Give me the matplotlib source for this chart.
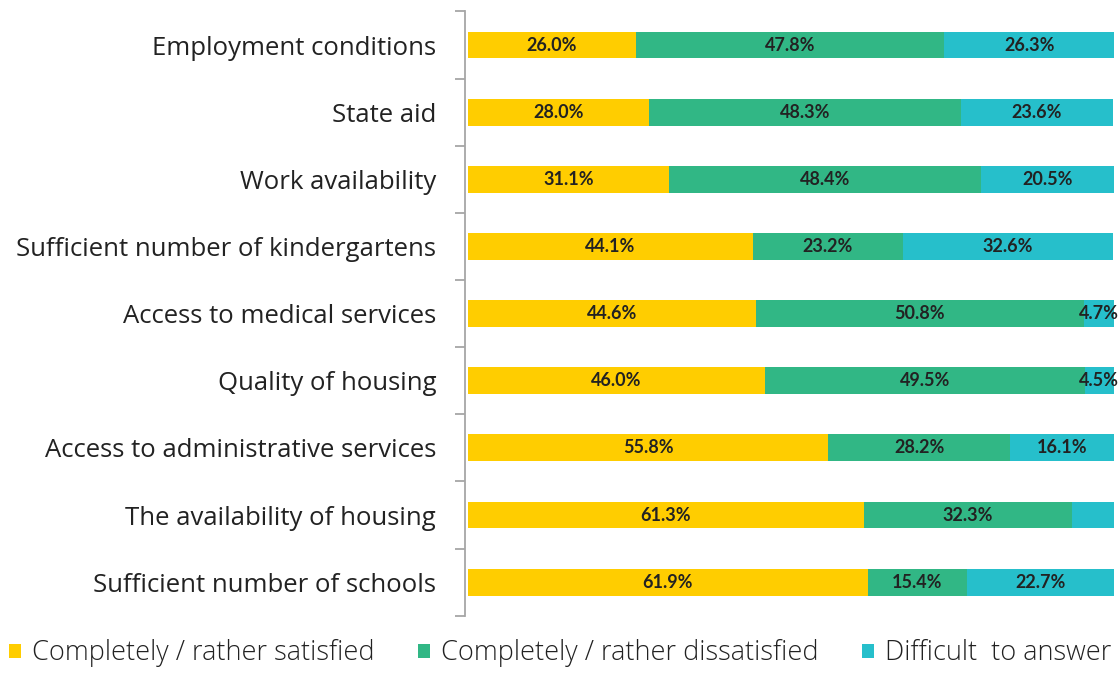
import matplotlib.pyplot as plt
import numpy as np

categories = ["Employment conditions", "State aid", "Work availability",
              "Sufficient number of kindergartens", "Access to medical services",
              "Quality of housing", "Access to administrative services",
              "The availability of housing", "Sufficient number of schools"]
satisfied = [26.0, 28.0, 31.1, 44.1, 44.6, 46.0, 55.8, 61.3, 61.9]
dissatisfied = [47.8, 48.3, 48.4, 23.2, 50.8, 49.5, 28.2, 32.3, 15.4]
difficult = [26.3, 23.6, 20.5, 32.6, 4.7, 4.5, 16.1, 6.4, 22.7]
show_difficult = [True, True, True, True, True, True, True, False, True]
series_names = ["Completely / rather satisfied", "Completely / rather dissatisfied",
                "Difficult  to answer"]
colors = ["#FFCD00", "#31B785", "#26BFCB"]

plt.rcParams['font.family'] = ['Open Sans', 'DejaVu Sans']

fig = plt.figure(figsize=(11.2, 6.73), dpi=100)
ax = fig.add_axes([0.418, 0.085, 0.578, 0.898])

y = np.arange(len(categories))
left = np.zeros(len(categories))
for vals, col, name in zip([satisfied, dissatisfied, difficult], colors, series_names):
    vals = np.array(vals)
    ax.barh(y, vals, left=left, height=0.4, color=col, label=name)
    for i, v in enumerate(vals):
        if col == colors[2] and not show_difficult[i]:
            continue
        ax.text(left[i] + v / 2, y[i], f"{v:.1f}%", ha='center', va='center',
                size=13, weight='bold', family=['Lato', 'DejaVu Sans'],
                color='#222222')
    left += vals

ax.set_ylim(len(categories) - 0.5, -0.5)
ax.set_xlim(0, 100.3)
ax.set_yticks(np.arange(-0.5, len(categories)), minor=True)
ax.set_yticks(y)
ax.tick_params(axis='y', which='major', length=0, pad=21, labelsize=18.5,
               labelcolor='#222222')
ax.tick_params(axis='y', which='minor', length=7, color='#A6A6A6', width=1.3)
ax.set_yticklabels(categories, fontsize=18.5, fontweight='light', color='#222222')
ax.set_xticks([])
for s in ['top', 'right', 'bottom']:
    ax.spines[s].set_visible(False)
ax.spines['left'].set_color('#A6A6A6')
ax.spines['left'].set_linewidth(1.3)
ax.spines['left'].set_position(('outward', 2))

handles, labels = ax.get_legend_handles_labels()
leg = fig.legend(handles, labels, loc='lower center', bbox_to_anchor=(0.5, -0.028), ncol=3,
                 frameon=False, fontsize=19.5, handlelength=0.45, handleheight=0.45,
                 handletextpad=0.4, columnspacing=1.6, labelcolor='#222222')
for t in leg.get_texts():
    t.set_fontweight('light')

fig.savefig("out.png", dpi=100)
